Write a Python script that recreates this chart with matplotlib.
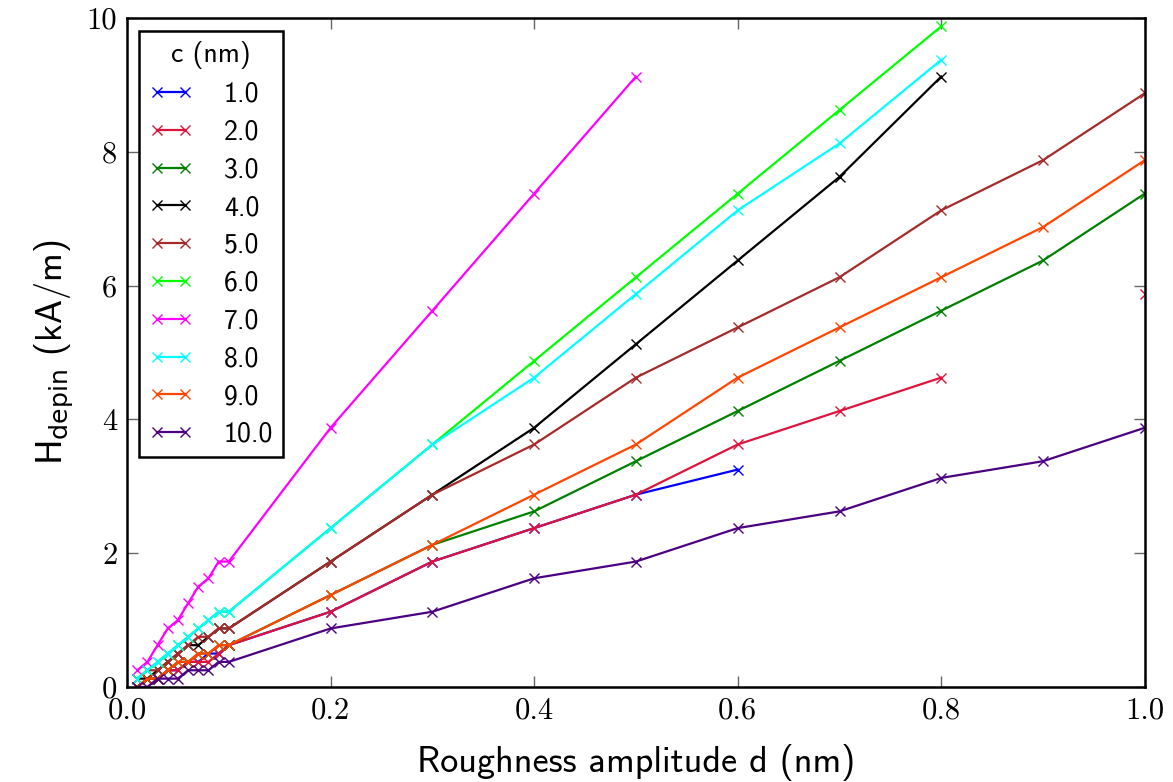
import matplotlib
matplotlib.use("Agg")

import numpy as np
import matplotlib.pyplot as plt

# roughness amplitude d (nm)
d = [0.01, 0.02, 0.03, 0.04, 0.05, 0.06, 0.07, 0.08, 0.09, 0.1,
     0.2, 0.3, 0.4, 0.5, 0.6, 0.7, 0.8, 0.9, 1.0]

c_values = [1.0, 2.0, 3.0, 4.0, 5.0, 6.0, 7.0, 8.0, 9.0, 10.0]
colors = ["blue", "crimson", "green", "black", "brown",
          "lime", "magenta", "cyan", "orangered", "indigo"]

nan = np.nan
# H_depin (kA/m) for each c
h_c1 = [0.0, 0.125, 0.125, 0.25, 0.25, 0.375, 0.375, 0.5, 0.5, 0.625,
        1.125, 1.875, 2.375, 2.875, 3.25, nan, nan, nan, nan]
h_c2 = [0.0, 0.125, 0.125, 0.25, 0.25, 0.375, 0.375, 0.375, 0.5, 0.625,
        1.125, 1.875, 2.375, 2.875, 3.625, 4.125, 4.625, nan, 5.875]
h_c3 = [0.0, 0.125, 0.125, 0.25, 0.375, 0.375, 0.5, 0.5, 0.625, 0.625,
        1.375, 2.125, 2.625, 3.375, 4.125, 4.875, 5.625, 6.375, 7.375]
h_c4 = [0.125, 0.125, 0.25, 0.375, 0.5, 0.625, 0.625, 0.75, 0.875, 0.875,
        1.875, 2.875, 3.875, 5.125, 6.375, 7.625, 9.125, nan, nan]
h_c5 = [0.125, 0.25, 0.25, 0.375, 0.5, 0.625, 0.75, 0.75, 0.875, 0.875,
        1.875, 2.875, 3.625, 4.625, 5.375, 6.125, 7.125, 7.875, 8.875]
h_c6 = [0.125, 0.25, 0.375, 0.5, 0.625, 0.75, 0.875, 1.0, 1.125, 1.125,
        2.375, 3.625, 4.875, 6.125, 7.375, 8.625, 9.875, nan, nan]
h_c7 = [0.25, 0.375, 0.625, 0.875, 1.0, 1.25, 1.5, 1.625, 1.875, 1.875,
        3.875, 5.625, 7.375, 9.125, nan, nan, nan, nan, nan]
h_c8 = [0.125, 0.25, 0.375, 0.5, 0.625, 0.75, 0.875, 1.0, 1.125, 1.125,
        2.375, 3.625, 4.625, 5.875, 7.125, 8.125, 9.375, nan, nan]
h_c9 = [0.0, 0.125, 0.125, 0.25, 0.375, 0.375, 0.5, 0.5, 0.625, 0.625,
        1.375, 2.125, 2.875, 3.625, 4.625, 5.375, 6.125, 6.875, 7.875]
h_c10 = [0.0, 0.0, 0.125, 0.125, 0.125, 0.25, 0.25, 0.25, 0.375, 0.375,
         0.875, 1.125, 1.625, 1.875, 2.375, 2.625, 3.125, 3.375, 3.875]

series = [h_c1, h_c2, h_c3, h_c4, h_c5, h_c6, h_c7, h_c8, h_c9, h_c10]

plt.rcParams["font.family"] = "cmss10"
plt.rcParams["axes.unicode_minus"] = False

fig = plt.figure(figsize=(11.73, 7.82), dpi=100)
ax = fig.add_axes([0.1083, 0.1215, 0.8677, 0.8555])

for c, h, col in zip(c_values, series, colors):
    ax.plot(d, h, color=col, marker="x", markersize=7.5, markeredgewidth=1.0,
            linewidth=1.6, label="%.1f" % c)

ax.set_xlim(0, 1.0)
ax.set_ylim(0, 10)
ax.set_xticks([0.0, 0.2, 0.4, 0.6, 0.8, 1.0])
ax.set_xticklabels(["0.0", "0.2", "0.4", "0.6", "0.8", "1.0"])
ax.set_yticks([0, 2, 4, 6, 8, 10])
ax.set_yticklabels(["0", "2", "4", "6", "8", "10"])
for lab in ax.get_xticklabels() + ax.get_yticklabels():
    lab.set_fontfamily("cmr10")
    lab.set_fontsize(22)

ax.tick_params(direction="in", length=8, width=1, color="0.4",
               top=True, right=True, pad=7)
for sp in ax.spines.values():
    sp.set_linewidth(1.8)

ax.set_xlabel("Roughness amplitude d (nm)", fontsize=26, labelpad=14)
ax.set_ylabel(r"H$_{\mathsf{depin}}$ (kA/m)", fontsize=26, labelpad=8)

leg = ax.legend(title="c (nm)", loc="upper left", fontsize=20,
                title_fontsize=20, numpoints=2, handlelength=1.6,
                fancybox=False, framealpha=1, edgecolor="black",
                borderpad=0.35, labelspacing=0.46, handletextpad=1.1,
                borderaxespad=0.0, bbox_to_anchor=(0.012, 0.98))
leg.get_frame().set_linewidth(1.8)

fig.savefig("out.png", dpi=100)
